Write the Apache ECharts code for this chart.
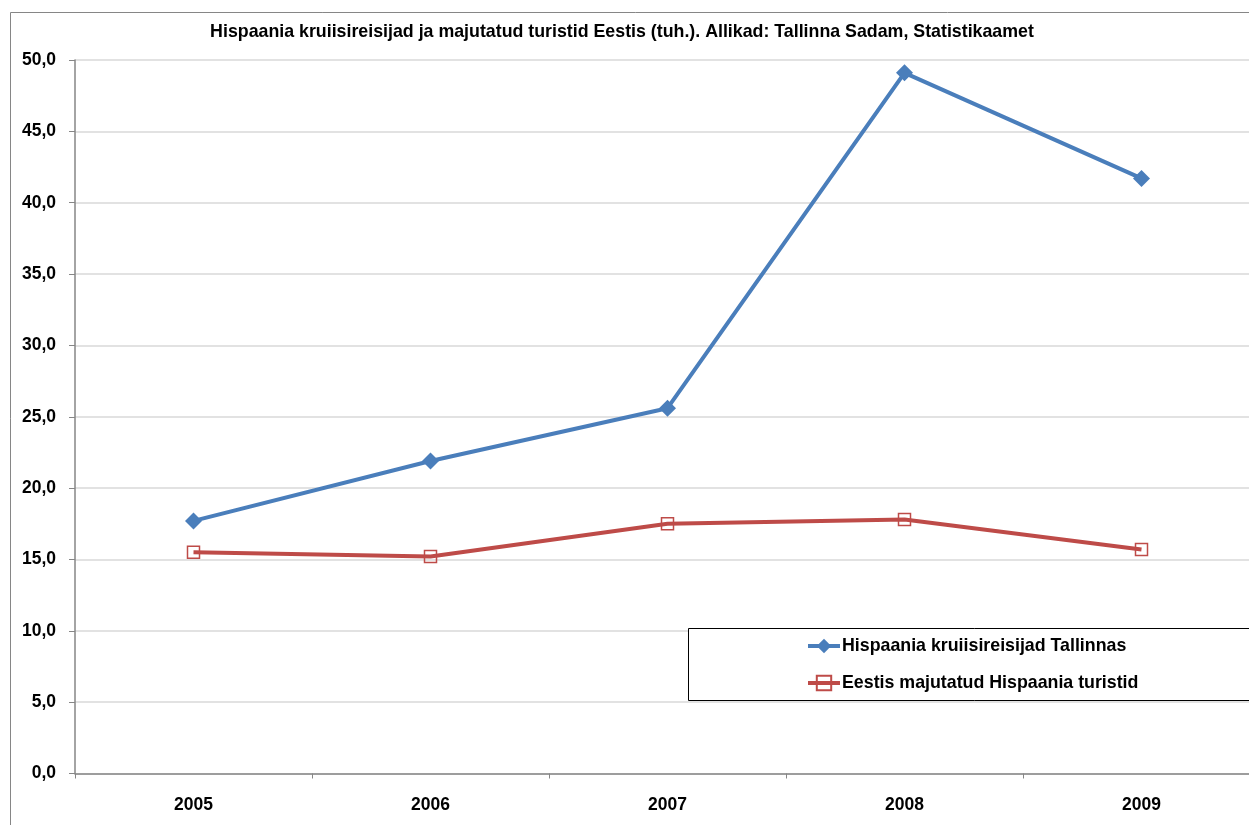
<!DOCTYPE html>
<html>
<head>
<meta charset="utf-8">
<script src="https://cdn.jsdelivr.net/npm/echarts@6/dist/echarts.min.js"></script>
<style>
html,body{margin:0;padding:0;background:#fff;overflow:hidden;}
#chart{width:1260px;height:825px;}
</style>
</head>
<body>
<div id="chart"></div>
<script>
const titleText = 'Hispaania kruiisireisijad ja majutatud turistid Eestis (tuh.). Allikad: Tallinna Sadam, Statistikaamet';
const years = ['2005', '2006', '2007', '2008', '2009'];
const cruiseName = 'Hispaania kruiisireisijad Tallinnas';
const cruiseValues = [17.7, 21.9, 25.6, 49.1, 41.7];
const touristName = 'Eestis majutatud Hispaania turistid';
const touristValues = [15.5, 15.2, 17.5, 17.8, 15.7];

const FONT = 'Liberation Sans';
const chart = echarts.init(document.getElementById('chart'));
chart.setOption({
  animation: false,
  backgroundColor: '#fff',
  title: {
    text: titleText,
    left: 617,
    textAlign: 'center',
    top: 18,
    textStyle: {fontFamily: FONT, fontWeight: 'bold', fontSize: 17.8, color: '#000'}
  },
  graphic: [
    {type: 'line', shape: {x1: 10.5, y1: 12.5, x2: 1260, y2: 12.5}, style: {stroke: '#868686', lineWidth: 1}, z: 100},
    {type: 'line', shape: {x1: 10.5, y1: 12.5, x2: 10.5, y2: 825}, style: {stroke: '#868686', lineWidth: 1}, z: 100},
    {type: 'rect', shape: {x: 688.5, y: 628.5, width: 600, height: 72}, style: {fill: '#fff', stroke: '#000', lineWidth: 1}, z: 50}
  ],
  legend: {
    left: 806,
    top: 637,
    padding: 0,
    orient: 'vertical',
    itemGap: 19,
    itemWidth: 32,
    itemHeight: 18,
    z: 60,
    lineStyle: {width: 4},
    textStyle: {fontFamily: FONT, fontWeight: 'bold', fontSize: 17.8, color: '#000', padding: [0, 0, 0, -3]},
    data: [cruiseName, touristName]
  },
  grid: {left: 75, top: 60, bottom: 51.5, right: 0, containLabel: false},
  xAxis: {
    type: 'category',
    data: years,
    boundaryGap: true,
    axisLine: {lineStyle: {color: '#868686', width: 1.5}},
    axisTick: {show: true, alignWithLabel: false, length: 5, lineStyle: {color: '#868686'}},
    axisLabel: {fontFamily: FONT, fontWeight: 'bold', fontSize: 17.5, color: '#000', margin: 23}
  },
  yAxis: {
    type: 'value',
    min: 0,
    max: 50,
    interval: 5,
    axisLine: {show: true, lineStyle: {color: '#868686', width: 1.5}},
    axisTick: {show: true, length: 6, inside: false, lineStyle: {color: '#868686'}},
    splitLine: {lineStyle: {color: '#d9d9d9', width: 1.5}},
    axisLabel: {
      fontFamily: FONT, fontWeight: 'bold', fontSize: 17.5, color: '#000', margin: 19,
      formatter: v => v.toFixed(1).replace('.', ',')
    }
  },
  series: [
    {
      name: cruiseName,
      type: 'line',
      data: cruiseValues,
      symbol: 'diamond',
      symbolSize: 17,
      lineStyle: {color: '#4A7EBB', width: 4},
      itemStyle: {color: '#4A7EBB'},
      z: 3
    },
    {
      name: touristName,
      type: 'line',
      data: touristValues,
      symbol: 'rect',
      symbolSize: 12,
      lineStyle: {color: '#BE4B48', width: 4},
      itemStyle: {color: 'rgba(255,255,255,0)', borderColor: '#BE4B48', borderWidth: 1.5},
      z: 2
    }
  ]
});
</script>
</body>
</html>
